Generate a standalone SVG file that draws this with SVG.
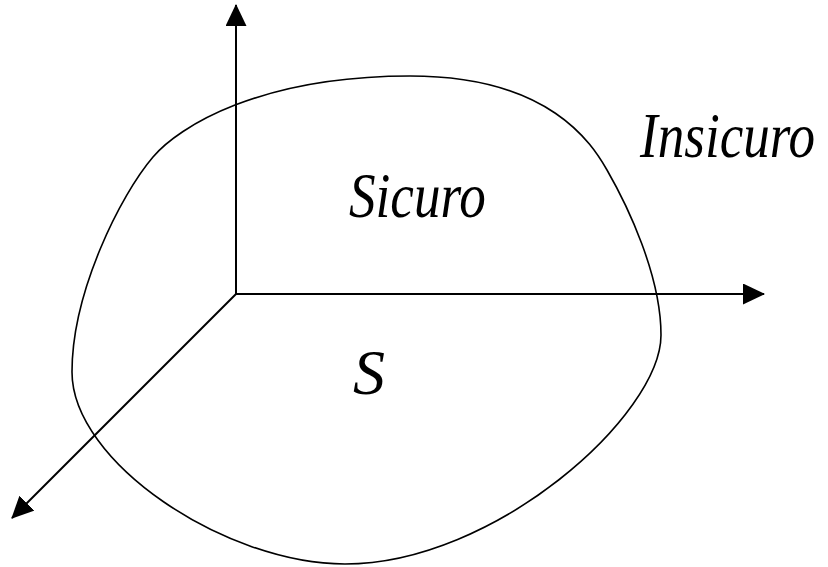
<svg xmlns="http://www.w3.org/2000/svg" width="828" height="567" viewBox="0 0 828 567">
<style>
.axis{stroke:#000;stroke-width:2;fill:none}
.blob{stroke:#000;stroke-width:1.6;fill:none}
.lbl{font-family:"Liberation Serif","Times New Roman",serif;font-style:italic;font-size:64px;fill:#000}
</style>
<defs>
<marker id="ah" markerUnits="userSpaceOnUse" markerWidth="22" markerHeight="22" refX="21" refY="10.5" orient="auto">
<path d="M0,0 L22,10.5 L0,21 z" fill="#000"/>
</marker>
</defs>
<rect width="828" height="567" fill="#fff"/>
<g id="region">
<path class="blob" d="M410,76 C550,76 592,144 607,170 C627,204.7 661,275 661,335 C661,415 495,564 345,564 C225,564 72,462 72,372 C72,292 120.5,195 153,157 C179,126.6 260,76 410,76 Z"/>
</g>
<g id="connectors">
<line class="axis" x1="236" y1="294" x2="236" y2="5" marker-end="url(#ah)"/>
<line class="axis" x1="236" y1="294" x2="764" y2="294" marker-end="url(#ah)"/>
<line class="axis" x1="236" y1="294" x2="12" y2="518" marker-end="url(#ah)"/>
</g>
<g id="label-insicuro"><text class="lbl" transform="translate(640,157) scale(0.83,1)" x="0" y="0">Insicuro</text></g>
<g id="label-sicuro"><text class="lbl" transform="translate(349,217) scale(0.83,1)" x="0" y="0">Sicuro</text></g>
<g id="label-s"><text class="lbl" x="353" y="394">S</text></g>
</svg>
